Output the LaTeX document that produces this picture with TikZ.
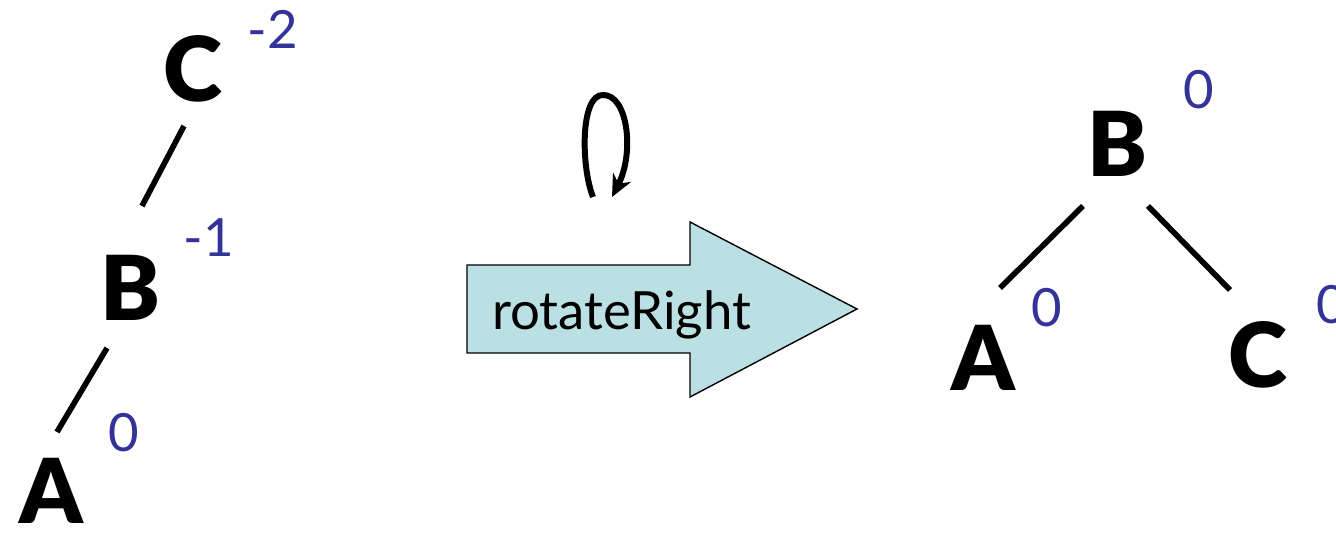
\documentclass[tikz,border=0pt]{standalone}
\usepackage{fontspec}
\setmainfont{Lato}
\newfontfamily\heavy{Lato Black}
\usepackage{tikz}
\usetikzlibrary{arrows.meta,calc}
\definecolor{BalBlue}{RGB}{51,51,153}
\definecolor{ArrFill}{RGB}{187,224,227}
\tikzset{
  key/.style={font=\heavy\fontsize{51}{55}\selectfont,inner sep=0pt},
  bal/.style={font=\fontsize{30}{32}\selectfont,text=BalBlue,inner sep=0pt},
  link/.style={line width=3.2pt,black},
  rotarr/.style={draw=black,line width=0.8pt,fill=ArrFill},
  spin/.style={-{Stealth[length=4.4mm,width=4mm]},line width=3.4pt},
}

\begin{document}
\begin{tikzpicture}
  \useasboundingbox (0,0) rectangle (26.72,10.94);
  % before: left-leaning chain
  \node[key] (lc) at (3.86,9.56) {C};
  \node[bal] (lcb) at (5.46,10.36) {-2};
  \node[key] (lb) at (2.62,5.18) {B};
  \node[bal] (lbb) at (4.18,6.18) {-1};
  \node[key] (la) at (1.02,1.12) {A};
  \node[bal] (lab) at (2.48,2.28) {0};
  \draw[link] ($(lc)+(-0.18,-1.14)$) -- ($(lb)+(0.22,1.64)$);
  \draw[link] ($(lb)+(-0.48,-1.20)$) -- ($(la)+(0.12,1.18)$);
  % rotation
  \draw[spin] (11.86,7.00) .. controls (11.62,7.6) and (11.60,9.05) .. (12.06,9.04)
              .. controls (12.55,9.05) and (12.70,7.9) .. (12.24,7.00);
  \draw[rotarr] (9.34,3.88) -- (13.80,3.88) -- (13.80,3.00) -- (17.14,4.76)
                -- (13.80,6.50) -- (13.80,5.64) -- (9.34,5.64) -- cycle;
  \node[anchor=base west,font=\fontsize{30}{33}\selectfont,inner sep=0pt] (rot) at (9.84,4.34) {rotateRight};
  % after: balanced
  \node[key] (rb) at (22.34,8.06) {B};
  \node[bal] (rbb) at (23.98,9.14) {0};
  \node[key] (ra) at (19.66,3.78) {A};
  \node[bal] (rab) at (20.94,4.78) {0};
  \node[key] (rc) at (25.16,3.84) {C};
  \node[bal] (rcb) at (26.63,4.84) {0};
  \draw[link] ($(rb)+(-0.68,-1.24)$) -- ($(ra)+(0.34,1.40)$);
  \draw[link] ($(rb)+(0.62,-1.24)$) -- ($(rc)+(-0.56,1.30)$);
\end{tikzpicture}
\end{document}
